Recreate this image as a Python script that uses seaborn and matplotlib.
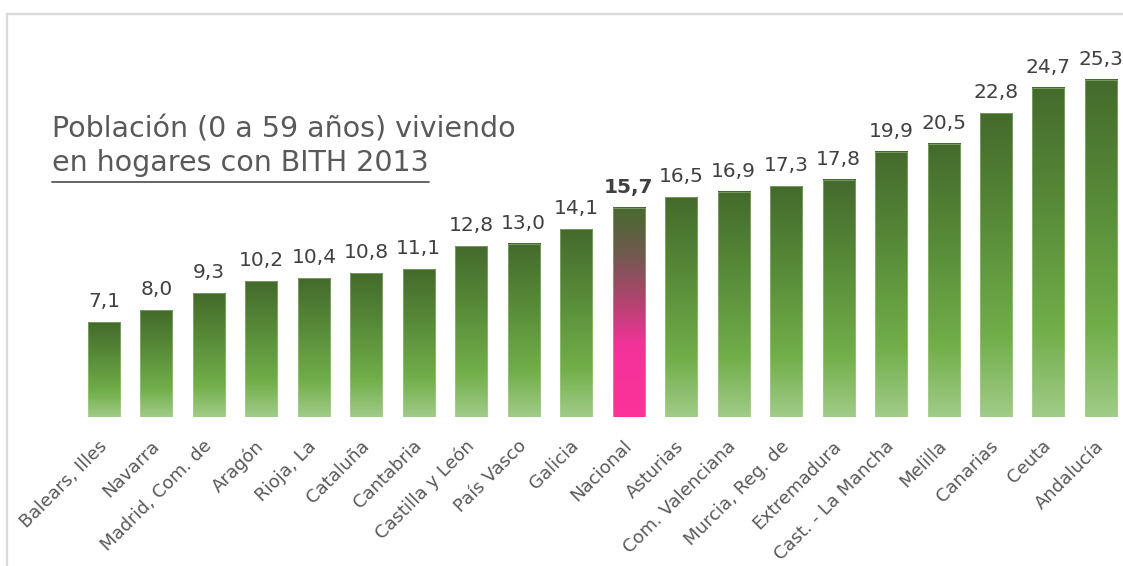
import numpy as np
import pandas as pd
import matplotlib
matplotlib.use("Agg")
import matplotlib.pyplot as plt
import seaborn as sns
from matplotlib.colors import LinearSegmentedColormap
from matplotlib.lines import Line2D

regions = ["Balears, Illes", "Navarra", "Madrid, Com. de", "Aragón", "Rioja, La",
           "Cataluña", "Cantabria", "Castilla y León", "País Vasco", "Galicia",
           "Nacional", "Asturias", "Com. Valenciana", "Murcia, Reg. de", "Extremadura",
           "Cast. - La Mancha", "Melilla", "Canarias", "Ceuta", "Andalucía"]
values = [7.1, 8.0, 9.3, 10.2, 10.4, 10.8, 11.1, 12.8, 13.0, 14.1,
          15.7, 16.5, 16.9, 17.3, 17.8, 19.9, 20.5, 22.8, 24.7, 25.3]
highlight = "Nacional"
title_line1 = "Población (0 a 59 años) viviendo"
title_line2 = "en hogares con BITH 2013"

sns.set_theme(style="white")
plt.rcParams['font.family'] = ['DejaVu Sans']

W, H = 1123, 566
fig = plt.figure(figsize=(W / 100, H / 100), dpi=100)
fig.patch.set_facecolor("white")

base_px, top_px = 417, 17
ax = fig.add_axes([60 / W, (H - base_px) / H, (1120 - 60) / W, (base_px - top_px) / H])

df = pd.DataFrame({"region": regions, "value": values})
sns.barplot(data=df, x="region", y="value", order=regions, ax=ax,
            width=0.61, color="#70ad47", errorbar=None)

green = LinearSegmentedColormap.from_list("g", [
    (0.0, "#446a2c"), (0.35, "#578a38"), (0.74, "#72ae4a"), (1.0, "#a0cc88")])
pink = LinearSegmentedColormap.from_list("p", [
    (0.0, "#476a2e"), (0.22, "#6f5a4f"), (0.45, "#b2446f"), (0.66, "#f3329a"), (1.0, "#fb3399")])

grad = np.linspace(0, 1, 256).reshape(-1, 1)
for patch, reg, val in zip(ax.patches, regions, values):
    x0, y0, w, h = patch.get_x(), patch.get_y(), patch.get_width(), patch.get_height()
    cmap = pink if reg == highlight else green
    ax.imshow(grad, cmap=cmap, extent=[x0, x0 + w, y0, y0 + h], origin="upper",
              aspect="auto", zorder=2, interpolation="bilinear")
    patch.set_facecolor("none")
    patch.set_edgecolor((0.72, 0.85, 0.64, 0.5))
    patch.set_linewidth(0.6)
    patch.set_zorder(3)
    ax.annotate(f"{val:.1f}".replace(".", ","), (x0 + w / 2, y0 + h),
                xytext=(0, 8), textcoords="offset points", ha="center", va="bottom",
                fontsize=14.5, color="#404040",
                fontweight="bold" if reg == highlight else "normal")

ax.set_xlim((60 - 104) / 52.47, (1120 - 104) / 52.47)
ax.set_ylim(0, 30)
ax.set_xlabel("")
ax.set_ylabel("")
ax.set_yticks([])
ax.tick_params(axis="x", length=0, pad=19)
ax.set_xticks(range(len(regions)))
ax.set_xticklabels(regions, rotation=45, ha="right", va="center", rotation_mode="anchor",
                   fontsize=13, color="#595959")
for s in ax.spines.values():
    s.set_visible(False)
ax.patch.set_alpha(0)

# frame
fig.add_artist(Line2D([7 / W, 7 / W], [0, (H - 14) / H], transform=fig.transFigure,
                      color="#d9d9d9", lw=1.6))
fig.add_artist(Line2D([7 / W, 1], [(H - 14) / H, (H - 14) / H], transform=fig.transFigure,
                      color="#d9d9d9", lw=1.6))

t1 = fig.text(52 / W, (H - 137) / H, title_line1, fontsize=20.5, color="#595959",
              ha="left", va="baseline")
t2 = fig.text(52 / W, (H - 171) / H, title_line2, fontsize=20.5, color="#595959",
              ha="left", va="baseline")
fig.canvas.draw()
bb = t2.get_window_extent()
uy = (H - 182) / H
fig.add_artist(Line2D([bb.x0 / W, bb.x1 / W], [uy, uy], transform=fig.transFigure,
                      color="#595959", lw=1.3))

fig.savefig("out.png", dpi=100)
